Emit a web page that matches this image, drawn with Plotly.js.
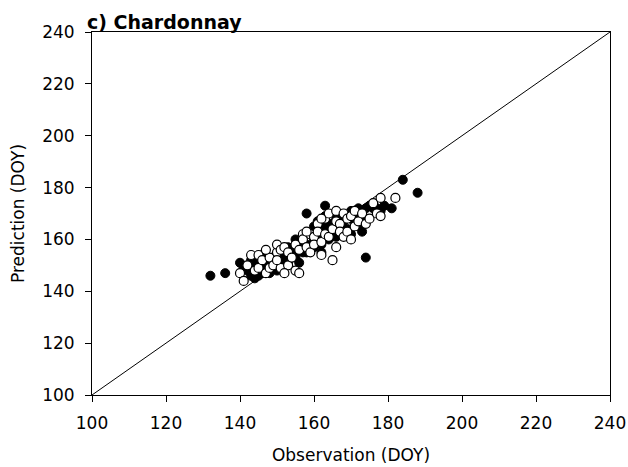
<!DOCTYPE html>
<html>
<head>
<meta charset="utf-8">
<script src="https://cdn.plot.ly/plotly-3.0.1.min.js"></script>
<style>html,body{margin:0;padding:0;background:#fff;}#chart{width:628px;height:467px;}</style>
</head>
<body>
<div id="chart"></div>
<script>
const filledObs  = [132,136,140,141,142,143,144,145,146,144,143,147,148,149,150,151,152,153,154,155,155,156,157,158,158,159,160,160,161,161,162,162,163,163,163,164,164,165,165,166,166,167,168,168,169,170,170,171,171,172,172,173,173,174,174,175,176,177,178,179,181,184,188,170,146,148,145,156,158,160,162,153,150];
const filledPred = [146,147,151,149,148,146,145,146,147,150,152,149,151,153,150,152,154,151,156,153,160,158,155,170,158,162,157,165,160,167,164,158,173,169,165,166,160,166,163,168,161,165,167,169,164,168,171,170,166,172,165,168,163,153,172,173,172,172,171,173,172,183,178,162,154,147,151,151,155,160,155,157,148];
const openObs  = [140,141,142,143,144,145,145,146,147,148,148,149,150,150,151,151,152,153,153,154,155,155,156,156,157,157,158,159,159,160,160,161,161,162,162,163,163,164,164,165,165,166,166,167,167,168,168,169,169,170,170,171,171,172,173,174,175,176,177,178,182,178,150,152,147,158,162,166];
const openPred = [147,144,150,154,148,154,149,152,147,149,153,150,155,158,149,156,157,150,155,153,148,158,147,156,162,160,157,162,155,161,158,166,163,159,154,162,168,161,170,164,152,171,167,166,163,170,161,168,163,169,160,171,165,167,170,166,168,174,170,176,176,169,152,147,156,163,168,157];
const lineX = [100, 240];
const lineY = [100, 240];
const xTicks = [100,120,140,160,180,200,220,240];
const yTicks = [100,120,140,160,180,200,220,240];

const traces = [
  {x: lineX, y: lineY, mode: 'lines', line: {color: '#000', width: 1}, hoverinfo: 'skip'},
  {x: filledObs, y: filledPred, mode: 'markers', marker: {size: 9, color: '#000', line: {color: '#000', width: 1}}},
  {x: openObs, y: openPred, mode: 'markers', marker: {size: 9, color: '#fff', line: {color: '#000', width: 1.2}}}
];
const fam = 'DejaVu Sans, sans-serif';
const font = {family: fam, size: 17, color: '#000'};
const layout = {
  width: 628, height: 467,
  margin: {l: 92, r: 18, t: 32, b: 72},
  paper_bgcolor: '#fff', plot_bgcolor: '#fff',
  showlegend: false,
  font: font,
  xaxis: {range: [100, 240], tickvals: xTicks, ticktext: xTicks.map(String), showgrid: false, zeroline: false,
    showline: true, linecolor: '#000', linewidth: 1, mirror: true, ticks: 'outside', ticklen: 6, tickcolor: '#000',
    ticklabelstandoff: 7,
    title: {text: 'Observation (DOY)', font: font, standoff: 16}},
  yaxis: {range: [100, 240], tickvals: yTicks, ticktext: yTicks.map(String), showgrid: false, zeroline: false,
    showline: true, linecolor: '#000', linewidth: 1, mirror: true, ticks: 'outside', ticklen: 6, tickcolor: '#000',
    ticklabelstandoff: 7,
    title: {text: 'Prediction (DOY)', font: font, standoff: 13}},
  annotations: [{text: '<b>c) Chardonnay</b>', xref: 'paper', yref: 'paper', x: 0, y: 1, xanchor: 'left', yanchor: 'bottom',
    showarrow: false, font: {family: fam, size: 19, color: '#000'}, xshift: -7, yshift: -3}]
};
Plotly.newPlot('chart', traces, layout, {displayModeBar: false, staticPlot: true});
</script>
</body>
</html>
